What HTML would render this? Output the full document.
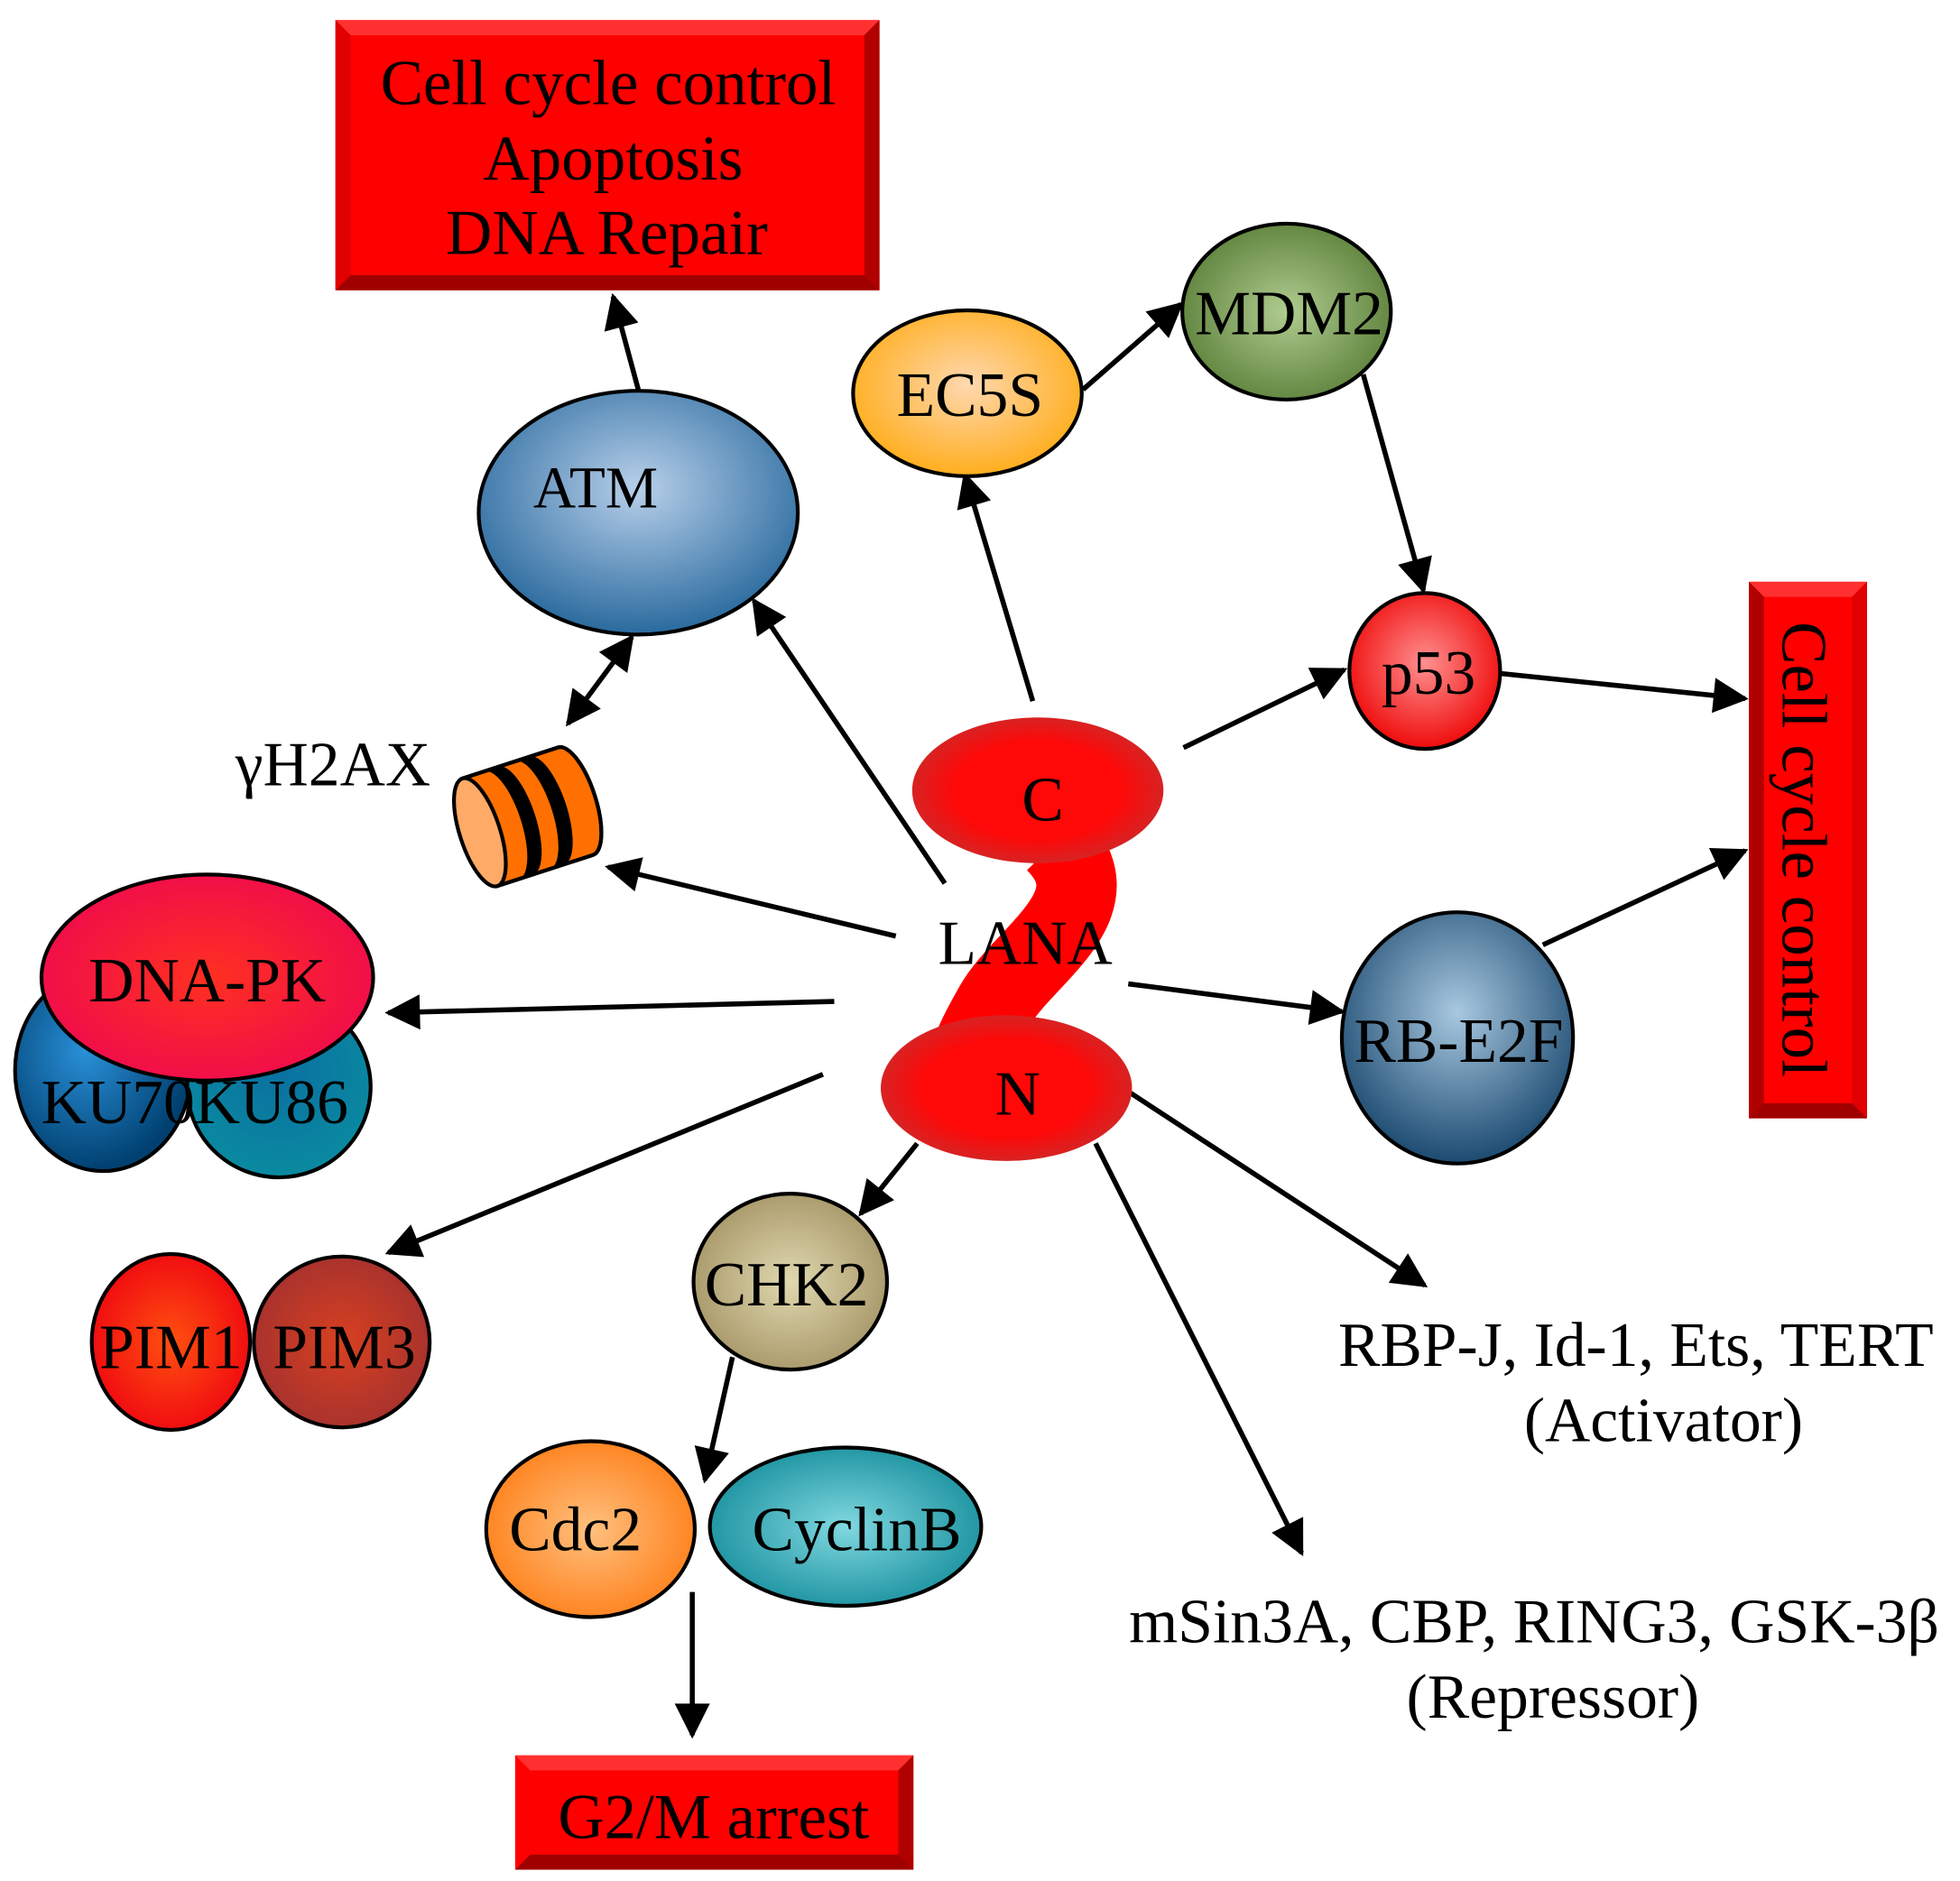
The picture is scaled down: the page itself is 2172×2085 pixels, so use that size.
<!DOCTYPE html>
<html><head><meta charset="utf-8"><style>html,body{margin:0;padding:0;background:#fff}svg{display:block}</style></head>
<body>
<svg width="2172" height="2085" viewBox="0 0 1560 1497" preserveAspectRatio="none" xmlns="http://www.w3.org/2000/svg" font-family="'Liberation Serif',serif">
<defs>
<marker id="ah" viewBox="0 0 10 10" refX="9" refY="5" markerWidth="8" markerHeight="7" markerUnits="strokeWidth" orient="auto-start-reverse"><path d="M0,0 L10,5 L0,10 z" fill="#000"/></marker>
<radialGradient id="gBlue" cx="0.5" cy="0.4" r="0.6"><stop offset="0" stop-color="#b8d0ea"/><stop offset="1" stop-color="#2a6a9e"/></radialGradient>
<radialGradient id="gOr" cx="0.5" cy="0.45" r="0.6"><stop offset="0" stop-color="#ffd8b0"/><stop offset="1" stop-color="#ffaa10"/></radialGradient>
<radialGradient id="gGr" cx="0.5" cy="0.5" r="0.6"><stop offset="0" stop-color="#b0cc90"/><stop offset="1" stop-color="#557a33"/></radialGradient>
<radialGradient id="gP53" cx="0.5" cy="0.45" r="0.6"><stop offset="0" stop-color="#ff9090"/><stop offset="1" stop-color="#ee0000"/></radialGradient>
<radialGradient id="gRed" cx="0.5" cy="0.5" r="0.55"><stop offset="0.6" stop-color="#ff0808"/><stop offset="1" stop-color="#cc2a2a"/></radialGradient>
<radialGradient id="gRB" cx="0.5" cy="0.4" r="0.6"><stop offset="0" stop-color="#a8c8e0"/><stop offset="1" stop-color="#1c4a70"/></radialGradient>
<radialGradient id="gDPK" cx="0.5" cy="0.5" r="0.6"><stop offset="0" stop-color="#ff3020"/><stop offset="1" stop-color="#ee0850"/></radialGradient>
<radialGradient id="gKU70" cx="0.4" cy="0.4" r="0.6"><stop offset="0" stop-color="#2a90d8"/><stop offset="1" stop-color="#004070"/></radialGradient>
<radialGradient id="gKU86" cx="0.5" cy="0.4" r="0.6"><stop offset="0" stop-color="#0a70a0"/><stop offset="1" stop-color="#0a8aa0"/></radialGradient>
<radialGradient id="gCHK" cx="0.5" cy="0.5" r="0.6"><stop offset="0" stop-color="#e0d8b0"/><stop offset="1" stop-color="#a09060"/></radialGradient>
<radialGradient id="gPIM1" cx="0.5" cy="0.5" r="0.6"><stop offset="0" stop-color="#ff5010"/><stop offset="1" stop-color="#ee0010"/></radialGradient>
<radialGradient id="gPIM3" cx="0.5" cy="0.5" r="0.6"><stop offset="0" stop-color="#d84020"/><stop offset="1" stop-color="#a03030"/></radialGradient>
<radialGradient id="gCdc" cx="0.5" cy="0.5" r="0.6"><stop offset="0" stop-color="#ffc080"/><stop offset="1" stop-color="#ff7a10"/></radialGradient>
<radialGradient id="gCyc" cx="0.5" cy="0.5" r="0.6"><stop offset="0" stop-color="#80d8e0"/><stop offset="1" stop-color="#108a98"/></radialGradient>
</defs>

<!-- Top box -->
<rect x="267" y="16" width="433" height="215" fill="#ff0000"/>
<polygon points="267,16 700,16 688,28 279,28" fill="#ff3030"/>
<polygon points="700,16 700,231 688,219 688,28" fill="#b00000"/>
<polygon points="267,231 700,231 688,219 279,219" fill="#a00000"/>
<polygon points="267,16 267,231 279,219 279,28" fill="#e00000"/>
<text x="484" y="83" font-size="51" text-anchor="middle">Cell cycle control</text>
<text x="488" y="143" font-size="51" text-anchor="middle">Apoptosis</text>
<text x="483" y="202" font-size="51" text-anchor="middle">DNA Repair</text>

<!-- Right box -->
<rect x="1392" y="463" width="94" height="427" fill="#ff0000"/>
<polygon points="1392,463 1486,463 1474,475 1404,475" fill="#ff3030"/>
<polygon points="1392,463 1392,890 1404,878 1404,475" fill="#b00000"/>
<polygon points="1486,463 1486,890 1474,878 1474,475" fill="#e00000"/>
<polygon points="1392,890 1486,890 1474,878 1404,878" fill="#a00000"/>
<text transform="translate(1419,676) rotate(90)" font-size="51" text-anchor="middle">Cell cycle control</text>

<!-- G2/M box -->
<rect x="410" y="1397" width="317" height="91" fill="#ff0000"/>
<polygon points="410,1397 727,1397 715,1409 422,1409" fill="#ff3030"/>
<polygon points="727,1397 727,1488 715,1476 715,1409" fill="#b00000"/>
<polygon points="410,1488 727,1488 715,1476 422,1476" fill="#a00000"/>
<text x="568" y="1463" font-size="51" text-anchor="middle">G2/M arrest</text>

<!-- Arrows -->
<g stroke="#000" stroke-width="4" fill="none">
<line x1="508" y1="310" x2="488" y2="236" marker-end="url(#ah)"/>
<line x1="452" y1="576" x2="503" y2="507" marker-start="url(#ah)" marker-end="url(#ah)"/>
<line x1="752" y1="703" x2="600" y2="478" marker-end="url(#ah)"/>
<line x1="713" y1="745" x2="484" y2="690" marker-end="url(#ah)"/>
<line x1="664" y1="797" x2="309" y2="806" marker-end="url(#ah)"/>
<line x1="655" y1="855" x2="309" y2="997" marker-end="url(#ah)"/>
<line x1="822" y1="558" x2="768" y2="378" marker-end="url(#ah)"/>
<line x1="862" y1="310" x2="940" y2="242" marker-end="url(#ah)"/>
<line x1="1085" y1="298" x2="1133" y2="470" marker-end="url(#ah)"/>
<line x1="942" y1="595" x2="1070" y2="533" marker-end="url(#ah)"/>
<line x1="1194" y1="536" x2="1389" y2="556" marker-end="url(#ah)"/>
<line x1="1228" y1="752" x2="1389" y2="677" marker-end="url(#ah)"/>
<line x1="898" y1="783" x2="1068" y2="805" marker-end="url(#ah)"/>
<line x1="730" y1="910" x2="685" y2="966" marker-end="url(#ah)"/>
<line x1="900" y1="870" x2="1134" y2="1023" marker-end="url(#ah)"/>
<line x1="872" y1="910" x2="1036" y2="1236" marker-end="url(#ah)"/>
<line x1="583" y1="1080" x2="561" y2="1178" marker-end="url(#ah)"/>
<line x1="551" y1="1267" x2="551" y2="1381" marker-end="url(#ah)"/>
</g>

<!-- Nodes -->
<g stroke="#000" stroke-width="3">
<ellipse cx="508" cy="408" rx="127" ry="97" fill="url(#gBlue)"/>
<ellipse cx="770" cy="313" rx="91" ry="66" fill="url(#gOr)"/>
<ellipse cx="1024" cy="248" rx="83" ry="70" fill="url(#gGr)"/>
<ellipse cx="1134" cy="534" rx="60" ry="62" fill="url(#gP53)"/>
<ellipse cx="1160" cy="826" rx="92" ry="100" fill="url(#gRB)"/>
<ellipse cx="82" cy="852" rx="70" ry="80" fill="url(#gKU70)"/>
<ellipse cx="222" cy="865" rx="73" ry="72" fill="url(#gKU86)"/>
<ellipse cx="165" cy="778" rx="132" ry="82" fill="url(#gDPK)"/>
<ellipse cx="629" cy="1020" rx="77" ry="70" fill="url(#gCHK)"/>
<ellipse cx="136" cy="1068" rx="63" ry="70" fill="url(#gPIM1)"/>
<ellipse cx="272" cy="1068" rx="70" ry="68" fill="url(#gPIM3)"/>
<ellipse cx="470" cy="1217" rx="83" ry="70" fill="url(#gCdc)"/>
<ellipse cx="673" cy="1215" rx="108" ry="63" fill="url(#gCyc)"/>
</g>

<!-- LANA squiggle -->
<path d="M840,670 C890,720 815,760 792,800 C775,830 768,845 768,870" stroke="#ff0000" stroke-width="64" fill="none"/>
<ellipse cx="826" cy="629" rx="100" ry="58" fill="url(#gRed)"/>
<ellipse cx="801" cy="866" rx="100" ry="58" fill="url(#gRed)"/>

<!-- gamma H2AX cylinder -->
<g transform="translate(420,650) rotate(-18)" stroke="#000" stroke-width="3">
<path d="M-40,-45 L40,-45 A16,45 0 0 1 40,45 L-40,45 Z" fill="#ff7000"/>
<path d="M-22,-45 L-10,-45 A16,45 0 0 1 -10,45 L-22,45 A16,45 0 0 0 -22,-45 Z" fill="#000" stroke-width="0"/>
<path d="M4,-45 L16,-45 A16,45 0 0 1 16,45 L4,45 A16,45 0 0 0 4,-45 Z" fill="#000" stroke-width="0"/>
<path d="M-40,-45 L40,-45 A16,45 0 0 1 40,45 L-40,45" fill="none"/>
<ellipse cx="-40" cy="0" rx="16" ry="45" fill="#ffaa66"/>
</g>

<!-- Labels -->
<g font-size="50" text-anchor="middle">
<text x="474" y="404" font-size="47">ATM</text>
<text x="772" y="331">EC5S</text>
<text x="1026" y="266">MDM2</text>
<text x="1137" y="552">p53</text>
<text x="1161" y="845">RB-E2F</text>
<text x="830" y="653">C</text>
<text x="810" y="887">N</text>
<text x="816" y="767">LANA</text>
<text x="265" y="625">γH2AX</text>
<text x="165" y="797">DNA-PK</text>
<text x="155" y="894">KU70KU86</text>
<text x="626" y="1039">CHK2</text>
<text x="136" y="1089">PIM1</text>
<text x="274" y="1089">PIM3</text>
<text x="458" y="1234">Cdc2</text>
<text x="682" y="1234">CyclinB</text>
<text x="1302" y="1087">RBP-J, Id-1, Ets, TERT</text>
<text x="1324" y="1147">(Activator)</text>
<text x="1221" y="1307">mSin3A, CBP, RING3, GSK-3β</text>
<text x="1236" y="1367">(Repressor)</text>
</g>
</svg>
</body></html>
